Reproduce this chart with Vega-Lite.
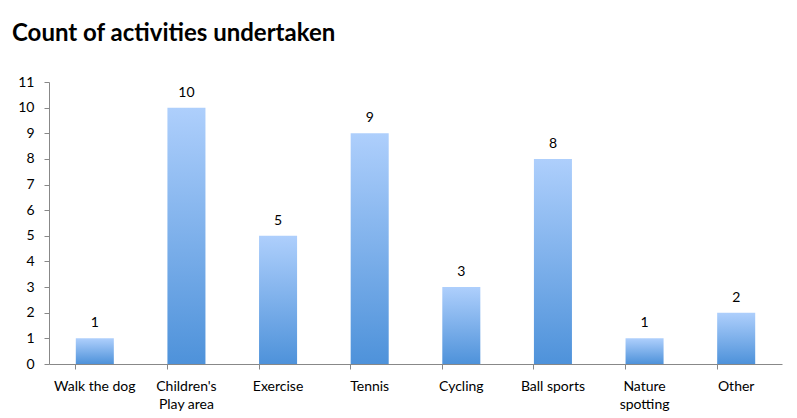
{
  "$schema": "https://vega.github.io/schema/vega-lite/v6.json",
  "autosize": "none",
  "width": 733,
  "height": 282,
  "padding": {"left": 49, "top": 82, "right": 15, "bottom": 54},
  "background": "white",
  "title": {
    "text": "Count of activities undertaken",
    "anchor": "start",
    "frame": "group",
    "baseline": "alphabetic",
    "offset": 10,
    "dx": -37,
    "font": "Lato",
    "fontSize": 24,
    "fontWeight": "bold",
    "color": "#000000"
  },
  "data": {
    "values": [
      {"activity": "Walk the dog", "count": 1},
      {"activity": "Children's|Play area", "count": 10},
      {"activity": "Exercise", "count": 5},
      {"activity": "Tennis", "count": 9},
      {"activity": "Cycling", "count": 3},
      {"activity": "Ball sports", "count": 8},
      {"activity": "Nature|spotting", "count": 1},
      {"activity": "Other", "count": 2}
    ]
  },
  "encoding": {
    "x": {
      "field": "activity",
      "type": "nominal",
      "sort": null,
      "scale": {"paddingInner": 0.585, "paddingOuter": 0.2925},
      "axis": {
        "title": null,
        "labelAngle": 0,
        "bandPosition": 0,
        "tickSize": 5,
        "tickColor": "#888888",
        "domainColor": "#888888",
        "labelFont": "Lato",
        "labelFontSize": 14,
        "labelColor": "#000000",
        "labelPadding": 10,
        "labelLineHeight": 18,
        "labelExpr": "split(datum.label, '|')",
        "grid": false
      }
    },
    "y": {
      "field": "count",
      "type": "quantitative",
      "scale": {"domain": [0, 11], "nice": false},
      "axis": {
        "title": null,
        "values": [0,1,2,3,4,5,6,7,8,9,10,11],
        "tickSize": 5,
        "tickColor": "#888888",
        "domainColor": "#888888",
        "labelFont": "Lato",
        "labelFontSize": 14,
        "labelColor": "#000000",
        "labelPadding": 10,
        "grid": false
      }
    }
  },
  "layer": [
    {
      "mark": {
        "type": "bar",
        "color": {
          "gradient": "linear",
          "x1": 0, "y1": 0, "x2": 0, "y2": 1,
          "stops": [
            {"offset": 0, "color": "#AECFFC"},
            {"offset": 1, "color": "#4E92DA"}
          ]
        }
      }
    },
    {
      "mark": {
        "type": "text",
        "baseline": "alphabetic",
        "dy": -11,
        "font": "Lato",
        "fontSize": 14,
        "color": "#000000"
      },
      "encoding": {"text": {"field": "count", "type": "quantitative"}}
    }
  ],
  "config": {"view": {"stroke": null}}
}
